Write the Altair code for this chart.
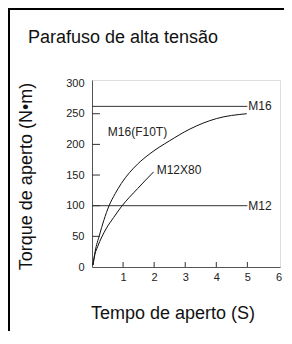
import altair as alt
import pandas as pd

FONT = "Liberation Sans"

# data
f10t_t = [0.03, 0.1, 0.24, 0.38, 0.55, 0.75, 0.94, 1.47, 1.87, 2.5, 3.15, 4.0, 4.98]
f10t_v = [3, 25, 52, 76, 100, 120, 136, 168, 185, 206, 225, 242, 250]
m12x80_t = [0.03, 0.09, 0.18, 0.45, 0.7, 0.94, 1.47, 1.98]
m12x80_v = [3, 20, 33, 62, 81, 98, 128, 155]
hlines_name = ["M16", "M12"]
hlines_v = [262, 100]
hlines_t0 = [0, 0]
hlines_t1 = [5, 5]
curve_labels = ["M16(F10T)", "M12X80"]
curve_label_t = [0.51, 2.08]
curve_label_v = [220, 158]
x_ticks = [1, 2, 3, 4, 5]
y_ticks = [50, 100, 150, 200, 250]
x_labels = [1, 2, 3, 4, 5, 6]
y_labels = [0, 50, 100, 150, 200, 250, 300]

W, H = 188, 187

xs = alt.Scale(domain=[0, 6.05], nice=False)
ys = alt.Scale(domain=[0, 305], nice=False)

XAX = alt.Axis(
    values=x_labels, tickSize=0, grid=False, labelPadding=4,
    labelOverlap=False, labelFlush=False,
    labelFontSize=11, labelFont=FONT, labelColor="#222",
    domainColor="#555", domainWidth=1,
    title="Tempo de aperto (S)", titleFont=FONT, titleFontSize=18,
    titleFontWeight="normal", titleColor="#111",
    titleX=80.5, titleY=51, titleBaseline="alphabetic", titleAlign="center",
)
YAX = alt.Axis(
    values=y_labels, tickSize=0, grid=False, labelPadding=8,
    labelOverlap=False, labelFlush=False,
    labelFontSize=11, labelFont=FONT, labelColor="#222",
    domainColor="#555", domainWidth=1,
    title="Torque de aperto (N•m)", titleFont=FONT, titleFontSize=18,
    titleFontWeight="normal", titleColor="#111",
    titleX=-61, titleY=96, titleBaseline="alphabetic", titleAlign="center",
    titleAngle=270,
)

curves = pd.DataFrame(
    [{"t": t, "v": v, "s": "F10T"} for t, v in zip(f10t_t, f10t_v)]
    + [{"t": t, "v": v, "s": "M12X80"} for t, v in zip(m12x80_t, m12x80_v)]
)
hl = pd.DataFrame({"name": hlines_name, "v": hlines_v, "t0": hlines_t0, "t1": hlines_t1})
cl = pd.DataFrame({"label": curve_labels, "t": curve_label_t, "v": curve_label_v})

base_axes = alt.Chart(curves).mark_line(
    color="#111", strokeWidth=1, interpolate="monotone"
).encode(
    x=alt.X("t:Q", scale=xs, axis=XAX),
    y=alt.Y("v:Q", scale=ys, axis=YAX),
    detail="s:N",
)

hrules = alt.Chart(hl).mark_rule(color="#333", strokeWidth=1).encode(
    x=alt.X("t0:Q", scale=xs, axis=XAX), x2="t1:Q", y=alt.Y("v:Q", scale=ys, axis=YAX)
)
hlabels = alt.Chart(hl).mark_text(
    align="left", baseline="middle", dx=1, font=FONT, fontSize=12, color="#222"
).encode(x=alt.X("t1:Q", scale=xs, axis=XAX), y=alt.Y("v:Q", scale=ys, axis=YAX), text="name:N")

clabels = alt.Chart(cl).mark_text(
    align="left", baseline="middle", font=FONT, fontSize=12, color="#222"
).encode(x=alt.X("t:Q", scale=xs, axis=XAX), y=alt.Y("v:Q", scale=ys, axis=YAX), text="label:N")

xt = alt.Chart(pd.DataFrame({"t": x_ticks})).mark_rule(color="#333", strokeWidth=1).encode(
    x=alt.X("t:Q", scale=xs, axis=XAX), y=alt.value(H), y2=alt.value(H - 5)
)
yt = alt.Chart(pd.DataFrame({"v": y_ticks})).mark_rule(color="#333", strokeWidth=1).encode(
    y=alt.Y("v:Q", scale=ys, axis=YAX), x=alt.value(0), x2=alt.value(8)
)

one = pd.DataFrame({"k": [0]})
frame = alt.Chart(one).mark_rect(filled=False, stroke="#000", strokeWidth=2).encode(
    x=alt.value(-83), x2=alt.value(260), y=alt.value(-71), y2=alt.value(300)
)
title = alt.Chart(pd.DataFrame({"txt": ["Parafuso de alta tensão"]})).mark_text(
    align="left", baseline="alphabetic", font=FONT, fontSize=18, color="#111"
).encode(x=alt.value(-64), y=alt.value(-37), text="txt:N")

chart = alt.layer(
    frame, title, hrules, base_axes, hlabels, clabels, xt, yt
).properties(
    width=W, height=H,
    autosize=alt.AutoSizeParams(type="none"),
    padding={"left": 84, "top": 72, "right": 4, "bottom": 64},
).configure_view(stroke="#888", strokeWidth=1).configure_axis(
    labelOverlap=False
).configure(background="white")

chart.save("out.html", embed_options={"renderer": "svg", "actions": False})
